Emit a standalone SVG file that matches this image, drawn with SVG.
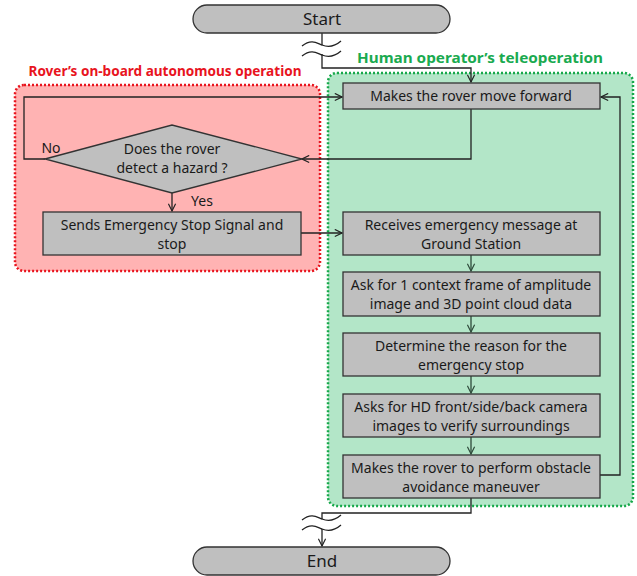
<svg xmlns="http://www.w3.org/2000/svg" width="637" height="576" viewBox="0 0 637 576">
<defs>
<style>
.t{font-family:"Noto Sans","Open Sans","DejaVu Sans",sans-serif;font-size:14px;fill:#1a1a1a;text-anchor:middle}
.big{font-size:17px}
.box{fill:#bfbfbf;stroke:#333;stroke-width:1.3}
.ln{fill:none;stroke:#222;stroke-width:1.3}
.gl{fill:none;stroke:#2e4a3a;stroke-width:1.3}
.wv{fill:none;stroke:#222;stroke-width:1.3}
.lbl{font-family:"Noto Sans","Open Sans",sans-serif;font-size:15px;font-weight:bold;text-anchor:middle}
</style>
<marker id="a" viewBox="0 0 10 10" refX="9" refY="5" markerWidth="9" markerHeight="9" markerUnits="userSpaceOnUse" orient="auto"><polyline points="1,1 9,5 1,9" fill="none" stroke="#222" stroke-width="1.3"/></marker>
<marker id="g" viewBox="0 0 10 10" refX="9" refY="5" markerWidth="9" markerHeight="9" markerUnits="userSpaceOnUse" orient="auto"><polyline points="1,1 9,5 1,9" fill="none" stroke="#2e4a3a" stroke-width="1.3"/></marker>
</defs>
<rect width="637" height="576" fill="#fff"/>
<g id="regions">
<rect x="15" y="85" width="305" height="186" rx="9" fill="#ffb3b3" stroke="#e8141e" stroke-width="2.5" stroke-dasharray="2 2"/>
<rect x="328" y="73" width="305" height="433" rx="9" fill="#b3e6c8" stroke="#16a84a" stroke-width="2.5" stroke-dasharray="2 2"/>
<text class="lbl" x="165" y="76" fill="#e8141e" textLength="273" lengthAdjust="spacingAndGlyphs">Rover’s on-board autonomous operation</text>
<text class="lbl" x="480" y="63" fill="#1aaa50" textLength="246" lengthAdjust="spacingAndGlyphs">Human operator’s teleoperation</text>
</g>
<g id="connectors">
<path class="ln" d="M322,33 V45"/>
<path class="ln" d="M322,54 V68 H471 V82" marker-end="url(#a)"/>
<path class="wv" d="M302,46 C312,38 318,44 322,45 C327,47 333,48 341,41"/>
<path class="wv" d="M302,56 C312,48 318,54 322,55 C327,57 333,58 341,51"/>
<path class="ln" d="M471,109 V159 H302" marker-end="url(#a)"/>
<path class="ln" d="M45,159 H24 V97 H342" marker-end="url(#a)"/>
<path class="ln" d="M172,193 V211" marker-end="url(#a)"/>
<path class="ln" d="M301,233 H342" marker-end="url(#a)"/>
<path class="gl" d="M471,255 V271" marker-end="url(#g)"/>
<path class="gl" d="M471,316 V332" marker-end="url(#g)"/>
<path class="gl" d="M471,376 V393" marker-end="url(#g)"/>
<path class="gl" d="M471,437 V454" marker-end="url(#g)"/>
<path class="ln" d="M600,475 H620 V97 H601" marker-end="url(#a)"/>
<path class="ln" d="M471,498 V513 H322 V519"/>
<path class="ln" d="M322,529 V546" marker-end="url(#a)"/>
<path class="wv" d="M302,520 C312,512 318,518 322,519 C327,521 333,522 341,515"/>
<path class="wv" d="M302,530 C312,522 318,528 322,529 C327,531 333,532 341,525"/>
<text class="t" x="51" y="153">No</text>
<text class="t" x="202" y="206">Yes</text>
</g>
<g id="start"><rect class="box" x="193" y="5" width="257" height="28" rx="14"/><text class="t big" x="322" y="25">Start</text></g>
<g id="forward"><rect class="box" x="343" y="83" width="257" height="26"/><text class="t" x="471" y="101">Makes the rover move forward</text></g>
<g id="hazard"><polygon class="box" points="45,159 172,125 302,159 172,193"/><text class="t" x="172" y="154">Does the rover</text><text class="t" x="172" y="173">detect a hazard ?</text></g>
<g id="estop"><rect class="box" x="43" y="212" width="258" height="43"/><text class="t" x="172" y="230">Sends Emergency Stop Signal and</text><text class="t" x="172" y="249">stop</text></g>
<g id="receives"><rect class="box" x="343" y="212" width="257" height="43"/><text class="t" x="471" y="230">Receives emergency message at</text><text class="t" x="471" y="249">Ground Station</text></g>
<g id="askframe"><rect class="box" x="343" y="272" width="257" height="44"/><text class="t" x="471" y="290">Ask for 1 context frame of amplitude</text><text class="t" x="471" y="309">image and 3D point cloud data</text></g>
<g id="determine"><rect class="box" x="343" y="333" width="257" height="43"/><text class="t" x="471" y="351">Determine the reason for the</text><text class="t" x="471" y="370">emergency stop</text></g>
<g id="askhd"><rect class="box" x="343" y="394" width="257" height="43"/><text class="t" x="471" y="412">Asks for HD front/side/back camera</text><text class="t" x="471" y="431">images to verify surroundings</text></g>
<g id="avoid"><rect class="box" x="343" y="455" width="257" height="43"/><text class="t" x="471" y="473">Makes the rover to perform obstacle</text><text class="t" x="471" y="492">avoidance maneuver</text></g>
<g id="end"><rect class="box" x="193" y="547" width="257" height="28" rx="14"/><text class="t big" x="322" y="567">End</text></g>
</svg>
